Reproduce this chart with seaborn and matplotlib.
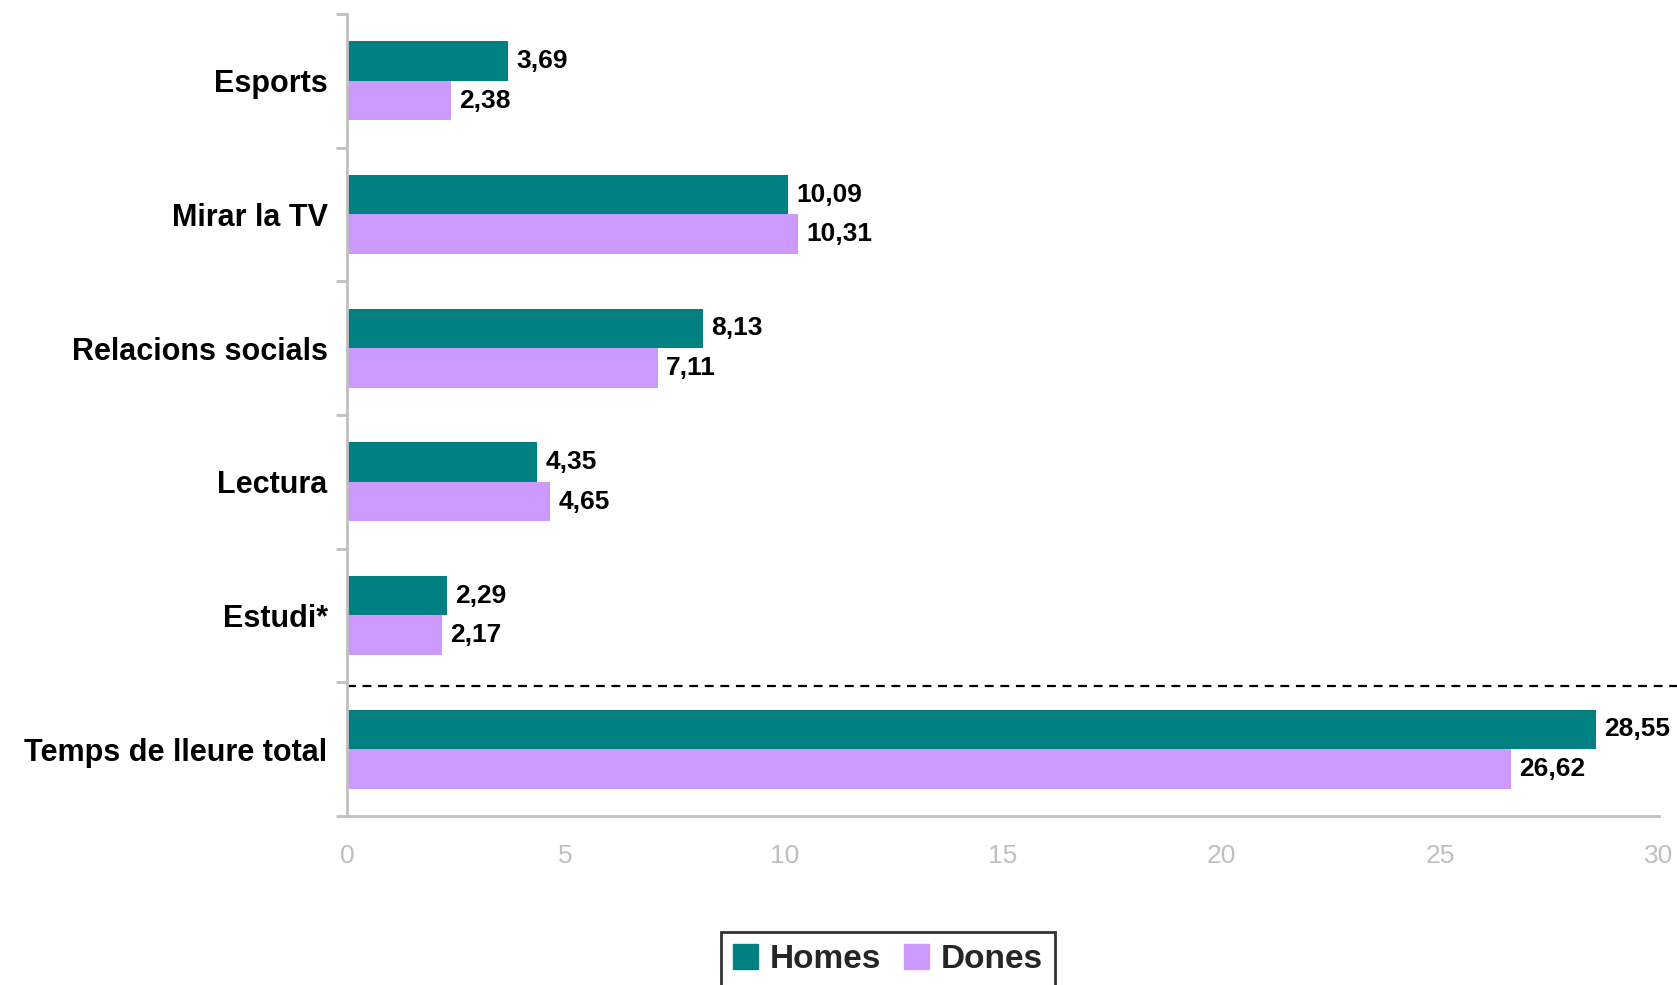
import numpy as np
import pandas as pd
import matplotlib
matplotlib.use("Agg")
import matplotlib.pyplot as plt
import seaborn as sns

categories = ["Esports", "Mirar la TV", "Relacions socials", "Lectura", "Estudi*", "Temps de lleure total"]
homes = [3.69, 10.09, 8.13, 4.35, 2.29, 28.55]
dones = [2.38, 10.31, 7.11, 4.65, 2.17, 26.62]
series = ["Homes", "Dones"]
colors = ["#008080", "#CC99FF"]
xticks = [0, 5, 10, 15, 20, 25, 30]

df = pd.DataFrame({
    "cat": categories * 2,
    "valor": homes + dones,
    "sexe": [series[0]] * len(categories) + [series[1]] * len(categories),
})

sns.set_style("white")
plt.rcParams["font.family"] = ["Liberation Sans", "DejaVu Sans"]

fig = plt.figure(figsize=(16.77, 9.85), dpi=100)
ax = fig.add_axes([0.2069, 0.1716, 0.9893 - 0.2069, 0.9858 - 0.1716])

sns.barplot(data=df, y="cat", x="valor", hue="sexe", order=categories,
            hue_order=series, palette=colors, orient="h", width=0.59,
            saturation=1, linewidth=0, ax=ax, legend=False)

# value labels with decimal comma
for cont in ax.containers:
    labels = [f"{v:.2f}".replace(".", ",") for v in cont.datavalues]
    ax.bar_label(cont, labels=labels, padding=6, fontsize=19, fontweight="bold", color="black")

ax.set_xlim(0, 30)
ax.set_ylim(5.5, -0.5)
ax.set_xticks(xticks)
ax.set_xlabel("")
ax.set_ylabel("")

grey = "#C0C0C0"
for s in ["top", "right"]:
    ax.spines[s].set_visible(False)
for s in ["left", "bottom"]:
    ax.spines[s].set_color(grey)
    ax.spines[s].set_linewidth(2)

ax.tick_params(axis="x", colors=grey, labelsize=19, length=8, width=2, direction="out", pad=12)
ax.tick_params(axis="x", labelcolor="#BFBFBF")
ax.set_yticks(np.arange(-0.5, 6, 1), minor=True)
ax.tick_params(axis="y", which="major", length=0, pad=14, labelsize=22, labelcolor="black")
ax.tick_params(axis="y", which="minor", length=8, width=2, color=grey, left=True)
for lab in ax.get_yticklabels():
    lab.set_fontweight("bold")

# dashed separator before total
ax.plot([0, 1.015], [4.53, 4.53], transform=ax.get_yaxis_transform(),
        color="black", linestyle=(0, (4, 3)), linewidth=1.6, clip_on=False)

handles = [plt.Rectangle((0, 0), 1, 1, color=c) for c in colors]
leg = fig.legend(handles, series, loc="upper center", bbox_to_anchor=(0.5295, 0.0535),
                 ncol=2, frameon=True, fancybox=False, handlelength=0.75, handleheight=0.75,
                 handletextpad=0.35, columnspacing=0.7, borderpad=0.35, borderaxespad=0,
                 prop={"size": 24, "weight": "bold"})
leg.get_frame().set_edgecolor("black")
leg.get_frame().set_linewidth(2)

fig.savefig("out.png", dpi=100)
